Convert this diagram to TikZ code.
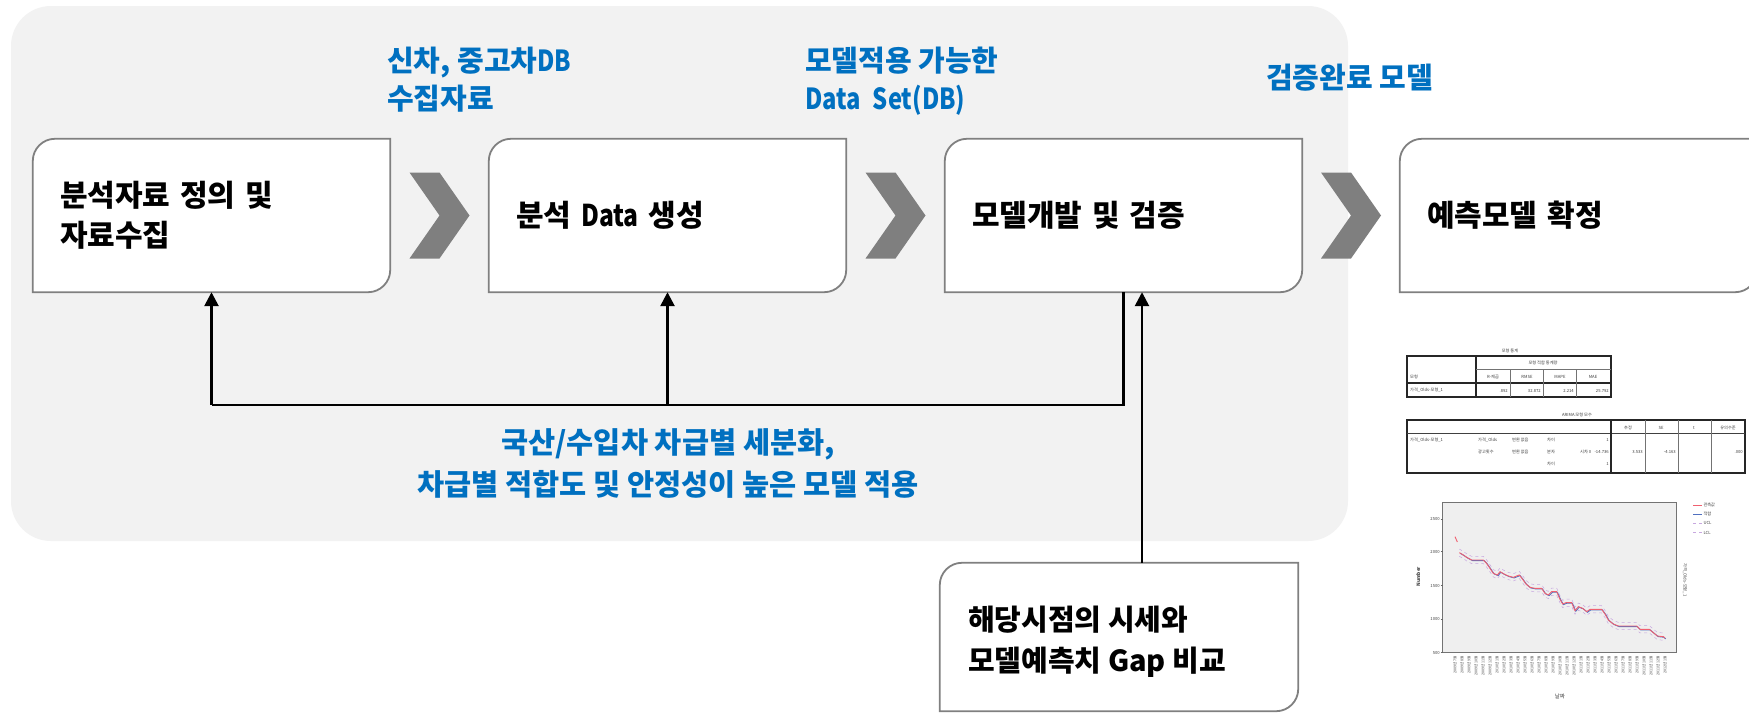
\documentclass[tikz,border=0pt]{standalone}
\usepackage{fontspec}
\setmainfont{Noto Sans CJK KR}
\newfontfamily\krc{Noto Sans CJK KR}[FakeStretch=0.82]
\usetikzlibrary{arrows.meta,calc}
\definecolor{bgray}{HTML}{F2F2F2}
\definecolor{lblue}{HTML}{0070C0}
\definecolor{edgegray}{HTML}{808080}
\definecolor{chevgray}{HTML}{7F7F7F}
\definecolor{plotbg}{HTML}{EFEFEF}
\definecolor{obsred}{HTML}{F06070}
\definecolor{fitblue}{HTML}{5070C0}
\definecolor{lim}{HTML}{C8A8E0}
\pgfdeclarelayer{back}\pgfdeclarelayer{mid}\pgfsetlayers{back,mid,main}

\newcommand\cutbox[1]{%
\begin{pgfonlayer}{mid}
\draw[boxline] (#1.south west) -- ([yshift=-22pt]#1.north west)
 .. controls ([yshift=-10pt]#1.north west) and ([xshift=10pt]#1.north west) .. ([xshift=22pt]#1.north west)
 -- (#1.north east) -- ([yshift=22pt]#1.south east)
 .. controls ([yshift=10pt]#1.south east) and ([xshift=-10pt]#1.south east) .. ([xshift=-22pt]#1.south east)
 -- cycle;
\end{pgfonlayer}}

\newcommand\chevron[1]{%
\fill[chevgray] ([shift={(-30pt,43pt)}]#1) -- ([shift={(0pt,43pt)}]#1) -- ([shift={(30pt,0pt)}]#1)
 -- ([shift={(0pt,-43pt)}]#1) -- ([shift={(-30pt,-43pt)}]#1) -- (#1) -- cycle;}

\begin{document}
\begin{tikzpicture}[x=1pt,y=-1pt,
  stepbox/.style={rectangle, inner xsep=27pt, inner ysep=0pt, text width=303pt,
    minimum height=153pt, align=left, font={\bfseries\fontsize{30}{40}\selectfont}},
  gapbox/.style={rectangle, inner sep=0pt, minimum width=358pt, minimum height=148pt},
  gaptext/.style={inner sep=0pt, align=left, anchor=west, font={\bfseries\fontsize{29}{41}\selectfont}},
  boxline/.style={draw=edgegray, line width=1.8pt, fill=white},
  bluelbl/.style={text=lblue, font={\bfseries\fontsize{29}{38}\selectfont}, align=left, inner sep=0pt, anchor=west},
  feedtxt/.style={text=lblue, font={\bfseries\fontsize{29.5}{42}\selectfont}, align=center, inner sep=0pt},
  fbline/.style={line width=2.6pt, black},
  arr/.style={fbline, -{Triangle[length=14pt,width=14pt]}},
  tiny/.style={font={\fontsize{4.2}{5}\selectfont}, text=black!75, inner sep=0pt},
  tabthick/.style={line width=1.5pt, black!85},
  tabthin/.style={line width=0.6pt, black!55}]
\useasboundingbox (0,0) rectangle (1749,713);
\begin{pgfonlayer}{back}
\fill[white] (0,0) rectangle (1749,713);
\fill[bgray, rounded corners=40pt] (11,6) rectangle (1348,541);
\end{pgfonlayer}

% process boxes
\node[stepbox] (b1) at (211.5,215.5) {분석자료 정의 및\\자료수집};
\node[stepbox] (b2) at (667.5,215.5) {분석 {\krc Data} 생성};
\node[stepbox] (b3) at (1123.5,215.5) {모델개발 및 검증};
\node[stepbox] (b4) at (1578.5,215.5) {예측모델 확정};
\node[gapbox] (b5) at (1119,637) {};
\node[gaptext] (b5t) at ([xshift=28pt,yshift=-5pt]b5.west) {해당시점의 시세와\\모델예측치 Gap 비교};
\cutbox{b1}\cutbox{b2}\cutbox{b3}\cutbox{b4}\cutbox{b5}

% chevrons
\coordinate (c1) at ($(b1.east)!0.5!(b2.west)$);
\coordinate (c2) at ($(b2.east)!0.5!(b3.west)$);
\coordinate (c3) at ($(b3.east)!0.5!(b4.west)$);
\chevron{c1}\chevron{c2}\chevron{c3}

% blue labels
\node[bluelbl] (l1) at (387,80) {신차, 중고차{\krc DB}\\수집자료};
\node[bluelbl] (l2) at (805,81) {모델적용 가능한\\{\krc Data\hspace{12pt}Set(DB)}};
\node[bluelbl] (l3) at (1266,78) {검증완료 모델};
\node[feedtxt] (l4) at (668,463) {국산/수입차 차급별 세분화,\\차급별 적합도 및 안정성이 높은 모델 적용};

% feedback connectors
\coordinate (fb) at (0,405);
\coordinate (k) at (1142,0);
\draw[fbline] (b3.south) |- (fb -| b1.south);
\draw[arr] (fb -| b1.south) -- (b1.south);
\draw[arr] (fb -| b2.south) -- (b2.south);
\draw[arr] (b5.north -| k) -- (b3.south -| k);

% ---- SPSS output: table 1
\node[tiny] (t1title) at (1510,351) {모형 통계};
\draw[tabthick] (1407,356) rectangle (1611,397);
\draw[tabthick] (1476,356) -- (1476,397);
\draw[tabthin] (1476,369) -- (1611,369);
\draw[tabthick] (1407,383) -- (1611,383);
\foreach \xx in {1510,1543,1576} \draw[tabthin] (\xx,369) -- (\xx,397);
\node[tiny] at (1543,363) {모형 적합 통계량};
\node[tiny] at (1493,377) {R-제곱};
\node[tiny] at (1527,377) {RMSE};
\node[tiny] at (1560,377) {MAPE};
\node[tiny] at (1593,377) {MAE};
\node[tiny, anchor=west] at (1410,377) {모형};
\node[tiny, anchor=west] at (1410,390) {가격\_Olds-모형\_1};
\node[tiny, anchor=east] at (1508,391) {.892};
\node[tiny, anchor=east] at (1541,391) {32.872};
\node[tiny, anchor=east] at (1574,391) {2.214};
\node[tiny, anchor=east] at (1609,391) {25.792};

% ---- table 2
\node[tiny] (t2title) at (1577,415) {ARIMA 모형 모수};
\draw[tabthick] (1407,420) rectangle (1745,473);
\draw[line width=1pt, black!75] (1407,433) -- (1745,433);
\draw[tabthick] (1611,420) -- (1611,473);
\foreach \xx in {1645,1678,1711} \draw[tabthin] (\xx,420) -- (\xx,473);
\node[tiny] at (1628,428) {추정};
\node[tiny] at (1661,428) {SE};
\node[tiny] at (1694,428) {t};
\node[tiny] at (1728,428) {유의수준};
\node[tiny, anchor=west] at (1410,440) {가격\_Olds-모형\_1};
\node[tiny, anchor=west] at (1478,440) {가격\_Olds};
\node[tiny, anchor=west] at (1512,440) {변환 없음};
\node[tiny, anchor=west] at (1547,440) {차이};
\node[tiny, anchor=west] at (1478,452) {광고횟수};
\node[tiny, anchor=west] at (1512,452) {변환 없음};
\node[tiny, anchor=west] at (1547,452) {분자};
\node[tiny, anchor=west] at (1580,452) {시차 0};
\node[tiny, anchor=west] at (1547,464) {차이};
\node[tiny, anchor=east] at (1609,440) {1};
\node[tiny, anchor=east] at (1609,452) {-14.736};
\node[tiny, anchor=east] at (1609,464) {1};
\node[tiny, anchor=east] at (1643,452) {3.533};
\node[tiny, anchor=east] at (1676,452) {-4.163};
\node[tiny, anchor=east] at (1743,452) {.000};

% ---- chart
\begin{scope}[shift={(1400,490)}, x=0.3333pt, y=-0.3333pt]
\fill[plotbg] (128,38) rectangle (830,488);
\draw[black!55, line width=0.8pt] (128,38) rectangle (830,488);
\foreach \v/\yy in {2500/87,2000/185,1500/287,1000/388,500/488}{
  \draw[black!60, line width=0.5pt] (122,\yy) -- (128,\yy);
  \node[tiny, anchor=east] at (120,\yy) {\v};
}
\node[tiny, rotate=90, font={\bfseries\fontsize{4.8}{5}\selectfont}] at (55,260) {Number};
\node[tiny, rotate=-90] at (855,270) {가격\_Olds-모형\_1};
\node[tiny, font={\fontsize{5.5}{6}\selectfont}] at (480,618) {날짜};
\foreach \i in {0,...,30}{
  \pgfmathtruncatemacro\yr{2009+floor((6+\i)/12)}
  \pgfmathtruncatemacro\mo{mod(6+\i,12)+1}
  \node[tiny, rotate=90, anchor=east, font={\fontsize{3.6}{4}\selectfont}] at (165+21*\i,497) {\yr{}년 \mo{}월};
}
\def\series{(178,188) (190,195) (200,202) (215,210) (250,210) (258,218) (268,232) (280,250) (292,255) (300,245) (312,252) (325,258) (340,262) (350,258) (358,255) (368,268) (378,282) (390,292) (405,295) (425,295) (435,310) (445,315) (455,305) (470,305) (480,328) (488,342) (498,338) (515,338) (525,362) (535,350) (548,355) (560,365) (570,358) (605,358) (615,372) (625,390) (640,402) (655,408) (710,408) (720,418) (748,418) (760,428) (772,438) (790,440) (795,445)}
\draw[lim, dashed, line width=0.5pt, yshift=3.6pt] plot coordinates {\series};
\draw[lim, dashed, line width=0.5pt, yshift=-3.6pt] plot coordinates {\series};
\draw[fitblue, line width=0.9pt, xshift=0.8pt, yshift=-0.6pt] plot coordinates {\series};
\draw[obsred, line width=0.9pt] plot coordinates {\series};
\draw[obsred, line width=0.9pt] (165,140) -- (172,156);
% legend
\draw[obsred, line width=0.9pt] (880,45) -- (905,45);
\draw[fitblue, line width=0.9pt] (880,72) -- (905,72);
\draw[lim, dashed, line width=0.5pt] (880,100) -- (905,100);
\draw[lim, dashed, line width=0.5pt] (880,128) -- (905,128);
\node[tiny, anchor=west] at (910,45) {관측값};
\node[tiny, anchor=west] at (910,72) {적합};
\node[tiny, anchor=west] at (910,100) {UCL};
\node[tiny, anchor=west] at (910,128) {LCL};
\end{scope}
\end{tikzpicture}
\end{document}
